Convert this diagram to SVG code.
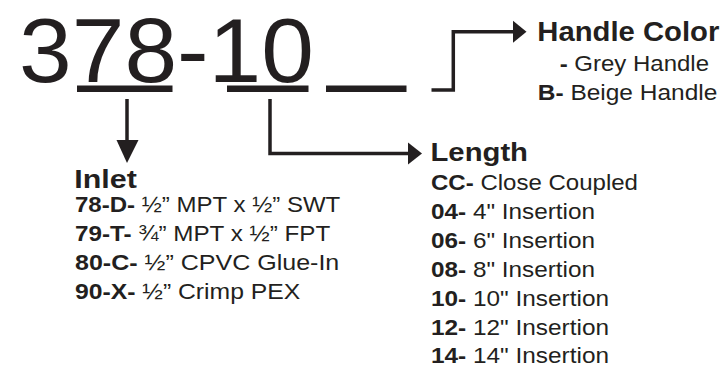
<svg xmlns="http://www.w3.org/2000/svg" width="723" height="367" viewBox="0 0 723 367">
  <style>
    .t { font-family: "Liberation Sans", Arial, sans-serif; fill: #231f20; }
    .b { font-weight: bold; }
    .big { font-size: 90px; }
    .h1 { font-size: 26px; font-weight: bold; }
    .row { font-size: 22px; }
    .ul { fill: #231f20; }
    .ln { fill: none; stroke: #231f20; stroke-width: 3.5; stroke-linejoin: miter; }
    .ah { fill: #231f20; }
  </style>
  <rect width="723" height="367" fill="#ffffff"/>

  <g id="part-number">
    <text class="t big" x="19" y="81.6" textLength="295" lengthAdjust="spacingAndGlyphs">378-10</text>
    <rect class="ul" x="77" y="85.5" width="95.5" height="6.5"/>
    <rect class="ul" x="227" y="85.5" width="81.5" height="6.5"/>
    <rect class="ul" x="326" y="85.5" width="80.5" height="6.5"/>
  </g>

  <g id="connectors">
    <path class="ln" d="M127,99 V141"/>
    <polygon class="ah" points="116.5,140 138.5,140 127,163"/>
    <path class="ln" d="M270,99 V153.5 H409"/>
    <polygon class="ah" points="408,142.5 422,153.5 408,164.5"/>
    <path class="ln" d="M431.5,90 H453.3 V31.7 H514"/>
    <polygon class="ah" points="513,20.7 526.5,31.7 513,42.7"/>
  </g>

  <g id="handle-color">
    <text class="t b" x="537.3" y="40.5" font-size="27" textLength="182" lengthAdjust="spacingAndGlyphs">Handle Color</text>
    <text class="t row" x="559.7" y="70.5" textLength="149.3" lengthAdjust="spacingAndGlyphs"><tspan class="b">-</tspan> Grey Handle</text>
    <text class="t row" x="537.8" y="100" textLength="179.5" lengthAdjust="spacingAndGlyphs"><tspan class="b">B-</tspan> Beige Handle</text>
  </g>

  <g id="inlet">
    <text class="t b" x="74.3" y="187.5" font-size="25.5" textLength="62.5" lengthAdjust="spacingAndGlyphs">Inlet</text>
    <text class="t row" x="75" y="212" textLength="265.3" lengthAdjust="spacingAndGlyphs"><tspan class="b">78-D-</tspan> ½” MPT x ½” SWT</text>
    <text class="t row" x="75" y="241" textLength="255.3" lengthAdjust="spacingAndGlyphs"><tspan class="b">79-T-</tspan> ¾” MPT x ½” FPT</text>
    <text class="t row" x="75" y="270" textLength="264.3" lengthAdjust="spacingAndGlyphs"><tspan class="b">80-C-</tspan> ½” CPVC Glue-In</text>
    <text class="t row" x="75" y="298.5" textLength="225.3" lengthAdjust="spacingAndGlyphs"><tspan class="b">90-X-</tspan> ½” Crimp PEX</text>
  </g>

  <g id="length">
    <text class="t h1" x="430.5" y="161" textLength="97.5" lengthAdjust="spacingAndGlyphs">Length</text>
    <text class="t row" x="431" y="189.5" textLength="207" lengthAdjust="spacingAndGlyphs"><tspan class="b">CC-</tspan> Close Coupled</text>
    <text class="t row" x="431" y="218.5" textLength="164" lengthAdjust="spacingAndGlyphs"><tspan class="b">04-</tspan> 4" Insertion</text>
    <text class="t row" x="431" y="247.5" textLength="164" lengthAdjust="spacingAndGlyphs"><tspan class="b">06-</tspan> 6" Insertion</text>
    <text class="t row" x="431" y="276.5" textLength="164" lengthAdjust="spacingAndGlyphs"><tspan class="b">08-</tspan> 8" Insertion</text>
    <text class="t row" x="431" y="305.5" textLength="178" lengthAdjust="spacingAndGlyphs"><tspan class="b">10-</tspan> 10" Insertion</text>
    <text class="t row" x="431" y="334.5" textLength="178" lengthAdjust="spacingAndGlyphs"><tspan class="b">12-</tspan> 12" Insertion</text>
    <text class="t row" x="431" y="363" textLength="178" lengthAdjust="spacingAndGlyphs"><tspan class="b">14-</tspan> 14" Insertion</text>
  </g>
</svg>
